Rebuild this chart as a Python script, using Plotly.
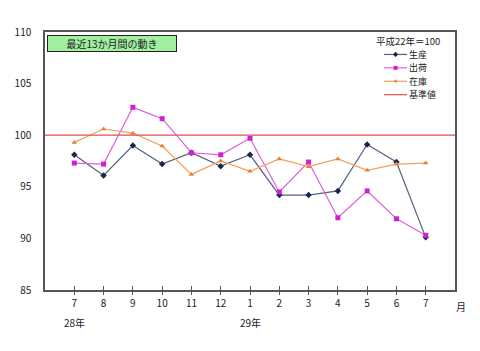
import plotly.graph_objects as go

months = ["7", "8", "9", "10", "11", "12", "1", "2", "3", "4", "5", "6", "7"]
seisan = [98.1, 96.1, 99.0, 97.2, 98.3, 97.0, 98.1, 94.2, 94.2, 94.6, 99.1, 97.4, 90.1]
shukka = [97.3, 97.2, 102.7, 101.6, 98.3, 98.1, 99.7, 94.5, 97.4, 92.0, 94.6, 91.9, 90.3]
zaiko = [99.3, 100.6, 100.2, 98.95, 96.2, 97.5, 96.5, 97.7, 96.95, 97.7, 96.6, 97.2, 97.3]
kijun = 100
year_labels = [(0, "28年"), (6, "29年")]
y_ticks = [85, 90, 95, 100, 105, 110]
legend_names = ["生産", "出荷", "在庫", "基準値"]

x = list(range(len(months)))
font = "Noto Sans CJK JP"

styles = [
    dict(line=dict(color="#56607a", width=1.2), marker=dict(symbol="diamond", size=5, color="#1a2450")),
    dict(line=dict(color="#e060e0", width=1.2), marker=dict(symbol="square", size=5, color="#d020d0")),
    dict(line=dict(color="#f0a060", width=1.2), marker=dict(symbol="triangle-up", size=5, color="#e88030")),
    dict(line=dict(color="#e05050", width=1.2)),
]

fig = go.Figure()
for vals, name, st in zip([seisan, shukka, zaiko], legend_names[:3], styles[:3]):
    fig.add_trace(go.Scatter(x=x, y=vals, name=name, mode="lines+markers", showlegend=False, **st))
fig.add_trace(go.Scatter(x=[-1, len(months)], y=[kijun, kijun], name="基準値", mode="lines",
                         showlegend=False, **styles[3]))
# invisible trace for cross ticks on x axis (inside part)
fig.add_trace(go.Scatter(x=x, y=seisan, xaxis="x2", mode="none", showlegend=False, hoverinfo="skip"))

# manual legend on a [0,1] overlay axis
leg_rows = [0.913, 0.861, 0.809, 0.757]
lx0, lx1, lxm, ltx = 0.827, 0.883, 0.855, 0.885
for name, st, ly in zip(legend_names, styles, leg_rows):
    fig.add_trace(go.Scatter(x=[lx0, lx1], y=[ly, ly], mode="lines", line=st["line"],
                             xaxis="x3", yaxis="y3", showlegend=False, hoverinfo="skip"))
    if "marker" in st:
        m = dict(st["marker"]); m["size"] = 4
        fig.add_trace(go.Scatter(x=[lxm], y=[ly], mode="markers", marker=m,
                                 xaxis="x3", yaxis="y3", showlegend=False, hoverinfo="skip"))
    fig.add_annotation(x=ltx, y=ly, xref="paper", yref="paper", text=name, showarrow=False,
                       xanchor="left", yanchor="middle", font=dict(size=9), borderpad=0)
fig.add_annotation(x=0.965, y=0.966, xref="paper", yref="paper", text="平成22年＝100",
                   showarrow=False, xanchor="right", yanchor="middle", font=dict(size=9.5),
                   borderpad=0)

fig.update_layout(
    width=480, height=351,
    margin=dict(l=45, r=25, t=32, b=61),
    paper_bgcolor="white", plot_bgcolor="white",
    font=dict(family=font, size=10, color="#222"),
    showlegend=False,
    xaxis=dict(range=[-1, len(months)], tickmode="array", tickvals=x, ticktext=months,
               showgrid=False, zeroline=False, showline=True, linecolor="#555", linewidth=1.5,
               mirror=True, ticks="outside", ticklen=3, tickcolor="#555"),
    xaxis2=dict(range=[-1, len(months)], overlaying="x", tickmode="array", tickvals=x,
                showticklabels=False, showgrid=False, zeroline=False, ticks="inside",
                ticklen=4, tickcolor="#555", side="bottom", anchor="y"),
    xaxis3=dict(range=[0, 1], overlaying="x", visible=False, anchor="y3"),
    yaxis3=dict(range=[0, 1], overlaying="y", visible=False, anchor="x3"),
    yaxis=dict(range=[85, 110], tickvals=y_ticks, showgrid=False, zeroline=False,
               showline=True, linecolor="#555", linewidth=1.5, mirror=True, ticks="",
               ticklabelstandoff=10),
)

for i, t in year_labels:
    fig.add_annotation(x=i, y=-0.09, xref="x", yref="paper", text=t, showarrow=False,
                       yanchor="top", font=dict(size=10))
fig.add_annotation(x=0.997, y=-0.065, xref="paper", yref="paper", text="月", showarrow=False,
                   xanchor="left", yanchor="middle", font=dict(size=10))
fig.add_annotation(x=0.005, y=0.99, xref="paper", yref="paper", text="最近13か月間の動き",
                   showarrow=False, xanchor="left", yanchor="top", font=dict(size=10),
                   width=126, height=13, align="center",
                   bgcolor="#a0eea0", bordercolor="#222", borderwidth=1, borderpad=1)

fig.write_html("out.html")
